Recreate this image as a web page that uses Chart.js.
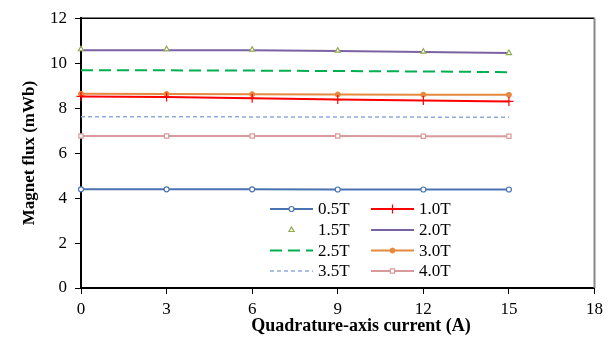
<!DOCTYPE html>
<html>
<head>
<meta charset="utf-8">
<script src="https://cdn.jsdelivr.net/npm/chart.js@4/dist/chart.umd.min.js"></script>
<style>
  html, body { margin: 0; padding: 0; background: #fff; }
  #wrap { width: 608px; height: 340px; }
</style>
</head>
<body>
<div id="wrap"><canvas id="c" width="608" height="340"></canvas></div>
<script>
const currents = [0, 3, 6, 9, 12, 15];
const labels = ['0.5T', '1.0T', '1.5T', '2.0T', '2.5T', '3.0T', '3.5T', '4.0T'];
const b05 = [4.39, 4.39, 4.39, 4.38, 4.38, 4.38];
const b10 = [8.52, 8.49, 8.44, 8.38, 8.34, 8.30];
const b15 = [10.62, 10.62, 10.60, 10.56, 10.51, 10.45];
const b20 = [10.58, 10.58, 10.57, 10.54, 10.50, 10.45];
const b25 = [9.68, 9.68, 9.67, 9.65, 9.63, 9.60];
const b30 = [8.64, 8.63, 8.62, 8.61, 8.60, 8.59];
const b35 = [7.62, 7.62, 7.61, 7.61, 7.60, 7.60];
const b40 = [6.76, 6.76, 6.76, 6.76, 6.75, 6.75];
const xTicks = [0, 3, 6, 9, 12, 15, 18];
const yTicks = [0, 2, 4, 6, 8, 10, 12];
const xTitle = 'Quadrature-axis current (A)';
const yTitle = 'Magnet flux (mWb)';

const pts = arr => arr.map((v, i) => ({ x: currents[i], y: v }));
const FONT = 'Liberation Serif, Times New Roman, serif';

const styles = [
  { borderColor: '#4a72b0', pointStyle: 'circle', pointRadius: 2.5, pointBackgroundColor: '#fff', borderWidth: 2, pointBorderWidth: 1.2 },
  { borderColor: '#ff0000', pointStyle: 'cross', pointRadius: 4.5, borderWidth: 2, pointBorderWidth: 1.2 },
  { borderColor: '#8faa4e', pointStyle: 'triangle', pointRadius: 3, pointBackgroundColor: '#fff', showLine: false, borderWidth: 1.2, pointBorderWidth: 1.2 },
  { borderColor: '#7b62a3', pointRadius: 0, borderWidth: 2 },
  { borderColor: '#00b050', pointRadius: 0, borderWidth: 2, borderDash: [12, 6] },
  { borderColor: '#e5893f', pointStyle: 'circle', pointRadius: 2.5, pointBackgroundColor: '#e5893f', borderWidth: 2, pointBorderWidth: 1 },
  { borderColor: '#8eaadb', pointRadius: 0, borderWidth: 1.5, borderDash: [4, 3] },
  { borderColor: '#d89a9a', pointStyle: 'rect', pointRadius: 3, pointBackgroundColor: '#fff', borderWidth: 2, pointBorderWidth: 1.2 }
];
const series = [b05, b10, b15, b20, b25, b30, b35, b40];

const datasets = series.map((s, i) => Object.assign({
  label: labels[i],
  data: pts(s),
  fill: false,
  tension: 0,
  pointHoverRadius: 0
}, styles[i]));

const framePlugin = {
  id: 'frame',
  afterDatasetsDraw(chart) {
    const { ctx, chartArea: a } = chart;
    ctx.save();
    ctx.strokeStyle = '#000';
    ctx.lineWidth = 1.5;
    ctx.beginPath();
    ctx.moveTo(a.left, a.top);
    ctx.lineTo(a.right, a.top);
    ctx.stroke();
    ctx.strokeStyle = '#888';
    ctx.lineWidth = 2;
    ctx.beginPath();
    ctx.moveTo(a.right, a.top);
    ctx.lineTo(a.right, a.bottom);
    ctx.stroke();
    ctx.restore();
  }
};

const legendPlugin = {
  id: 'customLegend',
  afterDraw(chart) {
    const { ctx } = chart;
    const rows = [209, 230, 250.5, 271];
    const cols = [270, 371];
    const lineLen = 43;
    ctx.save();
    ctx.font = '17px ' + FONT;
    ctx.textBaseline = 'middle';
    ctx.fillStyle = '#000';
    chart.data.datasets.forEach((ds, i) => {
      const x0 = cols[i % 2];
      const y = rows[Math.floor(i / 2)];
      if (ds.showLine !== false) {
        ctx.save();
        ctx.strokeStyle = ds.borderColor;
        ctx.lineWidth = ds.borderWidth;
        ctx.setLineDash(ds.borderDash || []);
        ctx.beginPath();
        ctx.moveTo(x0, y);
        ctx.lineTo(x0 + lineLen, y);
        ctx.stroke();
        ctx.restore();
      }
      if (ds.pointRadius > 0) {
        ctx.save();
        ctx.strokeStyle = ds.borderColor;
        ctx.fillStyle = ds.pointBackgroundColor || ds.borderColor;
        ctx.lineWidth = ds.pointBorderWidth || 1;
        Chart.helpers.drawPoint(ctx, { pointStyle: ds.pointStyle, radius: ds.pointRadius, borderWidth: ctx.lineWidth, rotation: 0 }, x0 + lineLen / 2, y);
        ctx.restore();
      }
      ctx.fillStyle = '#000';
      ctx.fillText(ds.label, x0 + lineLen + 5, y + 1);
    });
    // x-axis title (offset right as in the reference)
    ctx.font = 'bold 18px ' + FONT;
    ctx.textAlign = 'center';
    ctx.fillText(xTitle, 361, 326);
    ctx.restore();
  }
};

new Chart(document.getElementById('c'), {
  type: 'line',
  data: { datasets },
  options: {
    responsive: false,
    animation: false,
    events: [],
    clip: false,
    layout: { padding: { top: 18, right: 9, left: 0, bottom: 0 } },
    plugins: { legend: { display: false }, tooltip: { enabled: false }, title: { display: false } },
    scales: {
      x: {
        type: 'linear',
        min: 0, max: 18,
        afterBuildTicks: s => { s.ticks = xTicks.map(v => ({ value: v })); },
        afterFit: s => { s.height = 52; },
        grid: { drawOnChartArea: false, drawTicks: true, tickLength: 6, color: '#000', tickWidth: 1 },
        border: { display: true, color: '#000', width: 2 },
        ticks: { color: '#000', font: { family: FONT, size: 17 }, padding: 5, maxRotation: 0 },
        title: { display: false }
      },
      y: {
        type: 'linear',
        min: 0, max: 12,
        afterBuildTicks: s => { s.ticks = yTicks.map(v => ({ value: v })); },
        afterFit: s => { s.width = 81; },
        grid: { drawOnChartArea: false, drawTicks: true, tickLength: 6, color: '#000', tickWidth: 1 },
        border: { display: true, color: '#000', width: 2 },
        ticks: { color: '#000', font: { family: FONT, size: 17 }, padding: 8 },
        title: { display: true, text: yTitle, color: '#000', font: { family: FONT, size: 17, weight: 'bold' }, padding: { top: 19, bottom: 0 } }
      }
    }
  },
  plugins: [framePlugin, legendPlugin]
});
</script>
</body>
</html>
